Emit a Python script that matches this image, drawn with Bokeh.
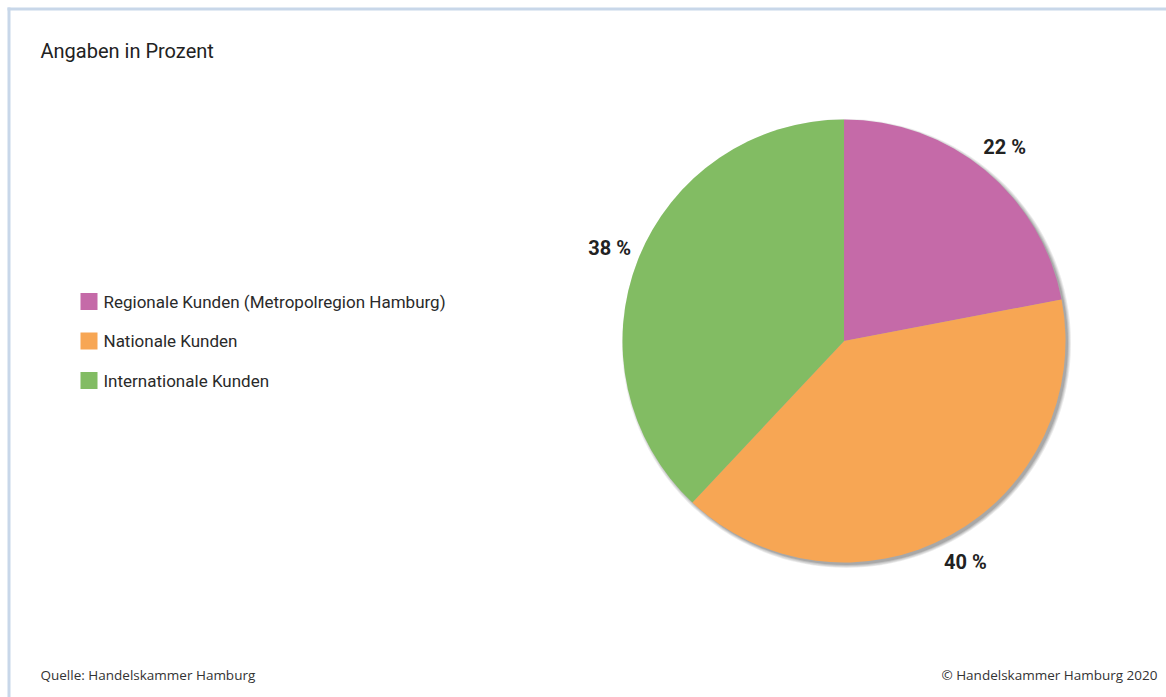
import math
from bokeh.plotting import figure
from bokeh.models import Range1d, ColumnDataSource
from bokeh.core.properties import value
from bokeh.embed import file_html
from bokeh.resources import INLINE

# ---- data ----
categories = ["Regionale Kunden (Metropolregion Hamburg)", "Nationale Kunden", "Internationale Kunden"]
shares = [22, 40, 38]
colors = ["#c56aa8", "#f7a654", "#82bc63"]
pct_labels = ["22 %", "40 %", "38 %"]
title_text = "Angaben in Prozent"
source_text = "Quelle: Handelskammer Hamburg"
copyright_text = "\u00a9 Handelskammer Hamburg 2020"

FONT = "Roboto"
W, H = 1166, 697
p = figure(width=W, height=H, x_range=Range1d(0, W), y_range=Range1d(0, H),
           output_backend="svg", toolbar_location=None, min_border=0)
p.axis.visible = False
p.grid.visible = False
p.outline_line_color = None
p.background_fill_color = "white"
p.border_fill_color = "white"

# frame lines (top and left)
border = "#c8d7e9"
p.quad(left=[7, 7], right=[W, 10], top=[H - 7, H - 7], bottom=[H - 10, 0],
       fill_color=border, line_color=None)

# title
p.text(x=[40], y=[H - 50], text=[title_text], text_font=value(FONT),
       text_font_size="20px", text_color="#222222", text_baseline="middle", text_align="left")

# pie geometry
cx, cy, r = 843.5, H - 340.5, 221.5
total = float(sum(shares))
starts, ends, mids = [], [], []
cum = 0.0
for s in shares:
    a0 = math.pi / 2 - 2 * math.pi * (cum + s) / total
    a1 = math.pi / 2 - 2 * math.pi * cum / total
    starts.append(a0)
    ends.append(a1)
    mids.append((a0 + a1) / 2)
    cum += s

# shadow
for dr, al in [(3, 0.10), (2, 0.12), (1, 0.15), (0, 0.2)]:
    p.circle(x=[cx + 2.5], y=[cy - 2.5], radius=r + dr, radius_units="screen",
             fill_color="#444444", fill_alpha=al, line_color=None)

src = ColumnDataSource(dict(start=starts, end=ends, color=colors))
p.wedge(x=cx, y=cy, radius=r, radius_units="screen", start_angle="start", end_angle="end",
        fill_color="color", line_color=None, source=src)

# percentage labels
lr = 252
lx = [cx + lr * math.cos(m) for m in mids]
ly = [cy + lr * math.sin(m) for m in mids]
p.text(x=lx, y=ly, text=pct_labels, text_font=value(FONT),
       text_font_style="bold", text_font_size="20px", text_color="#222222",
       text_align="center", text_baseline="middle")

# legend
ly0 = [H - 301 - i * 39.5 for i in range(len(categories))]
p.scatter(x=[88.5] * len(categories), y=ly0, marker="square", size=17,
          fill_color=colors, line_color=None)
p.text(x=[103] * len(categories), y=ly0, text=categories, text_font=value(FONT),
       text_font_size="17px", text_color="#2a2a2a", text_baseline="middle", text_align="left")

# footer
p.text(x=[40], y=[H - 674], text=[source_text], text_font=value("Open Sans"),
       text_font_size="13.5px", text_color="#333333", text_baseline="middle", text_align="left")
p.text(x=[1157], y=[H - 674], text=[copyright_text], text_font=value("Open Sans"),
       text_font_size="13.5px", text_color="#333333", text_baseline="middle", text_align="right")

open("out.html", "w").write(file_html(p, INLINE))
